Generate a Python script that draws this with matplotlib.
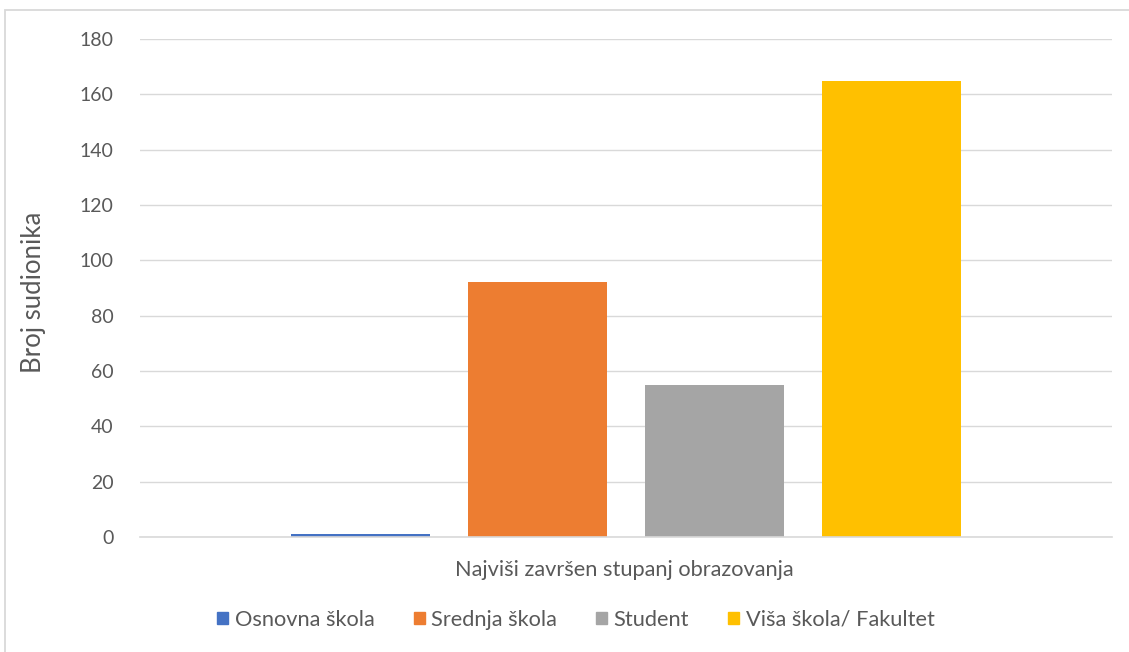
import numpy as np
import matplotlib
matplotlib.use("Agg")
import matplotlib.pyplot as plt
from matplotlib.patches import Rectangle

series = ["Osnovna škola", "Srednja škola", "Student", "Viša škola/ Fakultet"]
values = [1, 92, 55, 165]
colors = ["#4472C4", "#ED7D31", "#A5A5A5", "#FFC000"]
yticks = [0, 20, 40, 60, 80, 100, 120, 140, 160, 180]
xlabel = "Najviši završen stupanj obrazovanja"
ylabel = "Broj sudionika"

plt.rcParams["font.family"] = ["Lato", "DejaVu Sans"]
text_col = "#595959"
grid_col = "#D9D9D9"

fig = plt.figure(figsize=(11.29, 6.52), dpi=100)
fig.patches.append(Rectangle((5 / 1129, -0.1), 1.2, (652 - 10) / 652 + 0.1,
                             transform=fig.transFigure, fill=False,
                             edgecolor=grid_col, linewidth=1.3))
ax = fig.add_axes([140 / 1129, 115 / 652, 972 / 1129, 498 / 652])

bw = 0.143
step = 0.182
offsets = (np.arange(len(series)) - (len(series) - 1) / 2) * step
for off, v, c, name in zip(offsets, values, colors, series):
    ax.bar(off, v, width=bw, color=c, label=name, zorder=3)

ax.set_xlim(-0.5, 0.5)
ax.set_ylim(0, 180)
ax.set_yticks(yticks)
ax.set_xticks([])
ax.tick_params(axis="y", length=0, pad=19, labelsize=14, labelcolor=text_col)
ax.grid(axis="y", color=grid_col, linewidth=1, zorder=0)
for s in ["top", "right", "left"]:
    ax.spines[s].set_visible(False)
ax.spines["bottom"].set_color(grid_col)
ax.spines["bottom"].set_linewidth(1.2)
ax.spines["bottom"].set_zorder(4)

fig.text(34 / 1129, 1 - 292 / 652, ylabel, ha="center", va="center",
         rotation=90, fontsize=18.5, color=text_col)
fig.text(624 / 1129, 1 - 570 / 652, xlabel, ha="center", va="center",
         fontsize=15.7, color=text_col)

handles = [Rectangle((0, 0), 1, 1, color=c) for c in colors]
fig.legend(handles, series, loc="center", bbox_to_anchor=(576 / 1129, 1 - 620 / 652),
           ncol=4, frameon=False, fontsize=15.7, labelcolor=text_col,
           handlelength=0.5, handleheight=0.5, handletextpad=0.3, columnspacing=1.8)

fig.savefig("out.png", dpi=100)
plt.close(fig)
